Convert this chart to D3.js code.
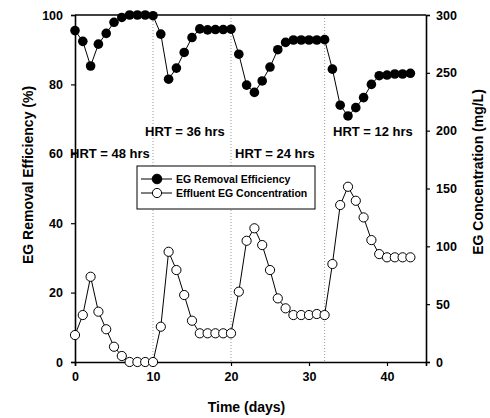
<!DOCTYPE html>
<html>
<head>
<meta charset="utf-8">
<script src="https://cdn.jsdelivr.net/npm/d3@7"></script>
<style>
  body { margin: 0; background: #fff; }
  text { font-family: "Liberation Sans", Arial, sans-serif; font-weight: bold; fill: #000; }
</style>
</head>
<body>
<script>
// Chart data
var days = [0, 1, 2, 3, 4, 5, 6, 7, 8, 9, 10, 11, 12, 13, 14, 15, 16, 17, 18, 19, 20, 21,
  22, 23, 24, 25, 26, 27, 28, 29, 30, 31, 32, 33, 34, 35, 36, 37, 38, 39, 40, 41, 42, 43];

var removalEff = [95.5, 92.4, 85.3, 91.6, 94.7, 97.9, 99.3, 100, 100, 100, 99.8,
  94.5, 81.5, 84.7, 89.2, 93.5, 96, 95.7, 95.8, 95.8, 95.9,
  88.7, 79.8, 77.7, 81, 85, 90, 92.1, 92.8, 92.8, 92.8, 92.8, 92.9,
  84.4, 74, 70.9, 73.3, 76.2, 80, 82.5, 82.7, 83, 83, 83.2];

var effluentEG = [23.3, 40.6, 73.7, 43.5, 28.3, 13.2, 5.2, 0, 0, 0, 0,
  30.5, 95.3, 79.5, 57.9, 35.7, 24.8, 24.8, 24.8, 24.8, 24.8,
  60.8, 104.8, 115.6, 101.1, 79.5, 55, 46.4, 40.6, 40.6, 40.6, 41.5, 40.6,
  84.7, 135.7, 151.5, 139.4, 125, 105.4, 93.3, 90.5, 90.5, 90.5, 90.5];

var xTicks = [0, 10, 20, 30, 40];
var leftTicks = [0, 20, 40, 60, 80, 100];
var rightTicks = [0, 50, 100, 150, 200, 250, 300];

// HRT change days and labels
var hrtChanges = [10, 20, 32];
var hrtLabels = ["HRT = 48 hrs", "HRT = 36 hrs", "HRT = 24 hrs", "HRT = 12 hrs"];

// SVG size and margins
var svgWidth = 490;
var svgHeight = 418;
var margin = { top: 15, right: 64, bottom: 56, left: 75 };
var width = svgWidth - margin.left - margin.right;
var height = svgHeight - margin.top - margin.bottom;

var svg = d3.select("body")
  .append("svg")
  .attr("width", svgWidth)
  .attr("height", svgHeight);

var chartGroup = svg.append("g")
  .attr("transform", `translate(${margin.left}, ${margin.top})`);

// Scales
var xScale = d3.scaleLinear().domain([0, 45]).range([0, width]);
var yLeft = d3.scaleLinear().domain([0, 100]).range([height, 0]);
var yRight = d3.scaleLinear().domain([0, 300]).range([height, 0]);

// Dotted lines where the HRT changes
chartGroup.selectAll(".hrt-line")
  .data(hrtChanges)
  .enter()
  .append("line")
  .attr("x1", d => xScale(d))
  .attr("x2", d => xScale(d))
  .attr("y1", 0)
  .attr("y2", height)
  .attr("stroke", "#999")
  .attr("stroke-width", 1)
  .attr("stroke-dasharray", "1,2");

// Axes
var bottomAxis = d3.axisBottom(xScale).tickValues(xTicks).tickSize(4).tickPadding(6);
var leftAxis = d3.axisLeft(yLeft).tickValues(leftTicks).tickSize(4).tickPadding(8);
var rightAxis = d3.axisRight(yRight).tickValues(rightTicks).tickSize(4).tickPadding(6);

chartGroup.append("g")
  .attr("transform", `translate(0, ${height})`)
  .call(bottomAxis);

chartGroup.append("g")
  .call(leftAxis);

chartGroup.append("g")
  .attr("transform", `translate(${width}, 0)`)
  .call(rightAxis);

chartGroup.selectAll(".domain").attr("stroke-width", 1.6);
chartGroup.selectAll(".tick line").attr("stroke-width", 1.2);
chartGroup.selectAll(".tick text")
  .style("font-size", "12.5px")
  .style("font-family", "'Liberation Sans', Arial, sans-serif")
  .style("font-weight", "bold");

// top frame line
chartGroup.append("line")
  .attr("x1", 0).attr("x2", width)
  .attr("y1", 0).attr("y2", 0)
  .attr("stroke", "#000")
  .attr("stroke-width", 1.4);

// Lines
var removalLine = d3.line()
  .x((d, i) => xScale(days[i]))
  .y(d => yLeft(d));

var effluentLine = d3.line()
  .x((d, i) => xScale(days[i]))
  .y(d => yRight(d));

chartGroup.append("path")
  .datum(effluentEG)
  .attr("d", effluentLine)
  .attr("fill", "none")
  .attr("stroke", "#000")
  .attr("stroke-width", 1);

chartGroup.append("path")
  .datum(removalEff)
  .attr("d", removalLine)
  .attr("fill", "none")
  .attr("stroke", "#000")
  .attr("stroke-width", 1);

// Markers
chartGroup.selectAll(".eff-dot")
  .data(effluentEG)
  .enter()
  .append("circle")
  .attr("class", "eff-dot")
  .attr("cx", (d, i) => xScale(days[i]))
  .attr("cy", d => yRight(d))
  .attr("r", 4.6)
  .attr("fill", "#fff")
  .attr("stroke", "#000")
  .attr("stroke-width", 1);

chartGroup.selectAll(".rem-dot")
  .data(removalEff)
  .enter()
  .append("circle")
  .attr("class", "rem-dot")
  .attr("cx", (d, i) => xScale(days[i]))
  .attr("cy", d => yLeft(d))
  .attr("r", 4.8)
  .attr("fill", "#000");

// HRT labels
var hrtPos = [[-5, 143], [70, 121], [160, 143], [258, 121]];
chartGroup.selectAll(".hrt-label")
  .data(hrtLabels)
  .enter()
  .append("text")
  .attr("x", (d, i) => hrtPos[i][0])
  .attr("y", (d, i) => hrtPos[i][1])
  .style("font-size", "13px")
  .style("font-weight", "bold")
  .text(d => d);

// Legend
var legend = svg.append("g")
  .attr("transform", "translate(137, 166)");

legend.append("rect")
  .attr("width", 178)
  .attr("height", 43)
  .attr("fill", "#fff")
  .attr("stroke", "#000")
  .attr("stroke-width", 1);

var legendItems = [
  { label: "EG Removal Efficiency", fill: "#000", r: 4.8 },
  { label: "Effluent EG Concentration", fill: "#fff", r: 4.6 }
];

var legendRow = legend.selectAll(".legend-row")
  .data(legendItems)
  .enter()
  .append("g")
  .attr("transform", (d, i) => `translate(0, ${13 + i * 14})`);

legendRow.append("line")
  .attr("x1", 4).attr("x2", 35)
  .attr("y1", 0).attr("y2", 0)
  .attr("stroke", "#000");

legendRow.append("circle")
  .attr("cx", 20)
  .attr("r", d => d.r)
  .attr("fill", d => d.fill)
  .attr("stroke", "#000");

legendRow.append("text")
  .attr("x", 39)
  .attr("y", 4)
  .style("font-size", "10.5px")
  .style("font-weight", "bold")
  .text(d => d.label);

// Axis titles
svg.append("text")
  .attr("x", margin.left + width / 2 - 4)
  .attr("y", 412)
  .attr("text-anchor", "middle")
  .style("font-size", "14px")
  .style("font-weight", "bold")
  .text("Time (days)");

svg.append("text")
  .attr("transform", "rotate(-90)")
  .attr("x", -175)
  .attr("y", 33)
  .attr("text-anchor", "middle")
  .style("font-size", "14px")
  .style("font-weight", "bold")
  .text("EG Removal Efficiency (%)");

svg.append("text")
  .attr("transform", "rotate(-90)")
  .attr("x", -172)
  .attr("y", 483)
  .attr("text-anchor", "middle")
  .style("font-size", "14px")
  .style("font-weight", "bold")
  .text("EG Concentration (mg/L)");
</script>
</body>
</html>
